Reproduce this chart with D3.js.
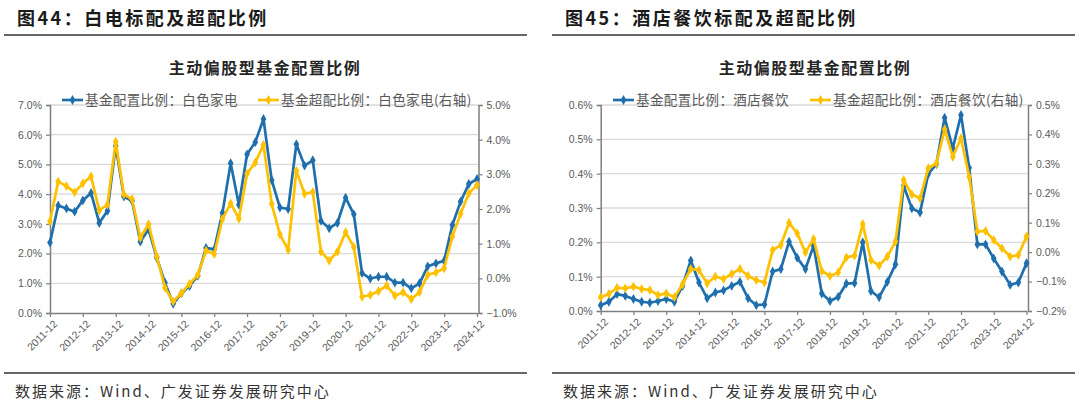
<!DOCTYPE html>
<html><head><meta charset="utf-8">
<script src="https://cdn.jsdelivr.net/npm/d3@7/dist/d3.min.js"></script>
<style>
body{margin:0;background:#fff;}
svg{display:block;}
</style></head>
<body>
<svg id="c" width="1080" height="404"></svg>
<script>
// ---- data ----
const quarters = ["2011-12","2012-03","2012-06","2012-09","2012-12","2013-03","2013-06","2013-09","2013-12",
"2014-03","2014-06","2014-09","2014-12","2015-03","2015-06","2015-09","2015-12","2016-03","2016-06","2016-09","2016-12",
"2017-03","2017-06","2017-09","2017-12","2018-03","2018-06","2018-09","2018-12","2019-03","2019-06","2019-09","2019-12",
"2020-03","2020-06","2020-09","2020-12","2021-03","2021-06","2021-09","2021-12","2022-03","2022-06","2022-09","2022-12",
"2023-03","2023-06","2023-09","2023-12","2024-03","2024-06","2024-09","2024-12"];
const yearTicks = ["2011-12","2012-12","2013-12","2014-12","2015-12","2016-12","2017-12","2018-12","2019-12","2020-12","2021-12","2022-12","2023-12","2024-12"];

// 白色家电 (%)
const appliancesWeight = [2.37,3.62,3.52,3.41,3.79,4.04,3.03,3.44,5.62,3.92,3.77,2.40,2.82,1.86,1.02,0.31,0.66,0.91,1.25,2.19,2.14,3.37,5.04,3.64,5.34,5.75,6.53,4.47,3.55,3.50,5.68,4.96,5.14,3.10,2.85,3.03,3.88,3.32,1.34,1.16,1.22,1.22,1.02,1.02,0.83,1.00,1.57,1.67,1.76,2.96,3.75,4.34,4.51];
const appliancesOver = [1.65,2.79,2.66,2.48,2.74,2.94,1.96,2.13,3.94,2.42,2.28,1.17,1.56,0.63,-0.27,-0.67,-0.43,-0.16,0.10,0.80,0.70,1.71,2.16,1.72,3.02,3.34,3.85,2.15,1.27,0.82,3.10,2.44,2.49,0.77,0.51,0.77,1.33,0.90,-0.53,-0.48,-0.37,-0.21,-0.50,-0.40,-0.60,-0.40,0.10,0.17,0.29,1.21,1.86,2.45,2.69];
const appliancesLeftTicks = [0,1,2,3,4,5,6,7];
const appliancesRightTicks = [-1,0,1,2,3,4,5];

// 酒店餐饮 (%)
const hotelWeight = [0.017,0.027,0.049,0.044,0.035,0.027,0.024,0.029,0.035,0.027,0.073,0.147,0.083,0.037,0.054,0.060,0.073,0.085,0.037,0.017,0.019,0.115,0.122,0.202,0.155,0.122,0.190,0.051,0.029,0.041,0.080,0.081,0.200,0.058,0.040,0.085,0.136,0.365,0.299,0.287,0.399,0.428,0.563,0.474,0.571,0.417,0.194,0.194,0.153,0.115,0.076,0.083,0.139];
const hotelOver = [-0.153,-0.142,-0.121,-0.123,-0.117,-0.125,-0.129,-0.146,-0.140,-0.153,-0.109,-0.057,-0.061,-0.106,-0.083,-0.091,-0.074,-0.057,-0.081,-0.095,-0.103,0.007,0.024,0.100,0.064,-0.001,0.045,-0.064,-0.081,-0.069,-0.018,-0.012,0.096,-0.027,-0.046,-0.015,0.036,0.245,0.196,0.183,0.285,0.302,0.417,0.324,0.387,0.256,0.070,0.072,0.041,0.013,-0.015,-0.010,0.053];
const hotelLeftTicks = [0,0.1,0.2,0.3,0.4,0.5,0.6];
const hotelRightTicks = [-0.2,-0.1,0,0.1,0.2,0.3,0.4,0.5];

const figTitles = ["图44：白电标配及超配比例","图45：酒店餐饮标配及超配比例"];
const chartTitle = "主动偏股型基金配置比例";
const legendWeight = ["基金配置比例：白色家电","基金配置比例：酒店餐饮"];
const legendOver = ["基金超配比例：白色家电(右轴)","基金超配比例：酒店餐饮(右轴)"];
const sourceText = "数据来源：Wind、广发证券发展研究中心";

// ---- drawing ----
const BLUE = "#1f6fad", YELLOW = "#ffc000", TXT = "#595959", AXIS = "#7f7f7f", GRID = "#d9d9d9";
const CJK = "'Noto Sans CJK SC','Noto Sans',sans-serif";
const NUM = "'Liberation Sans',Arial,sans-serif";
const svg = d3.select("#c");

const panels = [
  {ox:0, x0:50, x1:477, yTop:105, yBot:313, left:appliancesWeight, right:appliancesOver,
   lTicks:appliancesLeftTicks, rTicks:appliancesRightTicks, lDom:[0,7], rDom:[-1,5], fmt:d3.format(".1f"),
   title:figTitles[0], lw:legendWeight[0], lo:legendOver[0], legBlue:62, legYel:258, titleX:265},
  {ox:548, x0:600.7, x1:1026.5, yTop:105, yBot:311, left:hotelWeight, right:hotelOver,
   lTicks:hotelLeftTicks, rTicks:hotelRightTicks, lDom:[0,0.6], rDom:[-0.2,0.5], fmt:d3.format(".1f"),
   title:figTitles[1], lw:legendWeight[1], lo:legendOver[1], legBlue:613, legYel:810, titleX:815}
];

panels.forEach(p => {
  const g = svg.append("g");
  // header
  g.append("text").attr("x", p.ox+17).attr("y", 25).text(p.title)
    .attr("font-family", CJK).attr("font-size", 18).attr("font-weight", 700)
    .attr("letter-spacing", 2.5).attr("fill", "#1a1a1a");
  g.append("line").attr("x1", p.ox+4).attr("x2", p.ox+527).attr("y1", 35).attr("y2", 35)
    .attr("stroke", "#333").attr("stroke-width", 1.5);
  g.append("line").attr("x1", p.ox+4).attr("x2", p.ox+527).attr("y1", 373).attr("y2", 373)
    .attr("stroke", "#333").attr("stroke-width", 1.5);
  g.append("text").attr("x", p.ox+15).attr("y", 397).text(sourceText)
    .attr("font-family", CJK).attr("font-size", 15).attr("letter-spacing", 2).attr("fill", "#333");

  // chart title
  g.append("text").attr("x", p.titleX).attr("y", 74).attr("text-anchor", "middle").text(chartTitle)
    .attr("font-family", CJK).attr("font-size", 16).attr("font-weight", 700)
    .attr("letter-spacing", 1.5).attr("fill", "#262626");

  const x = d3.scalePoint().domain(quarters).range([p.x0, p.x1]);
  const yL = d3.scaleLinear().domain(p.lDom).range([p.yBot, p.yTop]);
  const yR = d3.scaleLinear().domain(p.rDom).range([p.yBot, p.yTop]);

  // gridlines
  g.append("g").selectAll("line").data(p.lTicks.slice(1)).join("line")
    .attr("x1", p.x0).attr("x2", p.x1+1).attr("y1", d => yL(d)).attr("y2", d => yL(d))
    .attr("stroke", GRID).attr("stroke-width", 1.3);

  // left axis
  const axL = g.append("g").attr("transform", `translate(${p.x0},0)`)
    .call(d3.axisLeft(yL).tickValues(p.lTicks).tickSize(4).tickFormat(d => p.fmt(d) + "%"));
  // right axis
  const axR = g.append("g").attr("transform", `translate(${p.x1+1.5},0)`)
    .call(d3.axisRight(yR).tickValues(p.rTicks).tickSize(4).tickFormat(d => p.fmt(d) + "%"));
  // bottom axis
  const axB = g.append("g").attr("transform", `translate(0,${p.yBot})`)
    .call(d3.axisBottom(x).tickValues(yearTicks).tickSize(4).tickSizeOuter(0));
  [axL, axR, axB].forEach(a => {
    a.select(".domain").attr("stroke", AXIS).attr("stroke-width", 1.5);
    a.selectAll(".tick line").attr("stroke", AXIS).attr("stroke-width", 1.2);
    a.selectAll("text").attr("font-family", NUM).attr("font-size", 10.5).attr("fill", TXT);
  });
  axL.selectAll("text").attr("x", -8);
  axR.selectAll("text").attr("x", 8);
  axB.selectAll("text")
    .attr("text-anchor", "end").attr("dy", "0.35em")
    .attr("transform", "translate(5,9) rotate(-45)").attr("y", 0).attr("x", 0);

  // lines
  const series = [{vals:p.left, y:yL, c:BLUE}, {vals:p.right, y:yR, c:YELLOW}];
  series.forEach(s => {
    const line = d3.line().x((d,i) => x(quarters[i])).y(d => s.y(d));
    g.append("path").datum(s.vals).attr("d", line).attr("fill", "none")
      .attr("stroke", s.c).attr("stroke-width", 2.7).attr("stroke-linejoin", "round");
    g.append("g").selectAll("path").data(s.vals).join("path")
      .attr("d", d3.symbol(d3.symbolDiamond, 28))
      .attr("transform", (d,i) => `translate(${x(quarters[i])},${s.y(d)})`)
      .attr("fill", s.c);
  });

  // legend
  const legY = 100;
  [[p.legBlue, BLUE, p.lw], [p.legYel, YELLOW, p.lo]].forEach(([lx, c, t]) => {
    g.append("line").attr("x1", lx).attr("x2", lx+21).attr("y1", legY).attr("y2", legY)
      .attr("stroke", c).attr("stroke-width", 2.7);
    g.append("path").attr("d", d3.symbol(d3.symbolDiamond, 28)())
      .attr("transform", `translate(${lx+10.5},${legY})`).attr("fill", c);
    g.append("text").attr("x", lx+23).attr("y", legY+5).text(t)
      .attr("font-family", CJK).attr("font-size", 13.5).attr("letter-spacing", 0.4).attr("fill", TXT);
  });
});
</script>
</body></html>
